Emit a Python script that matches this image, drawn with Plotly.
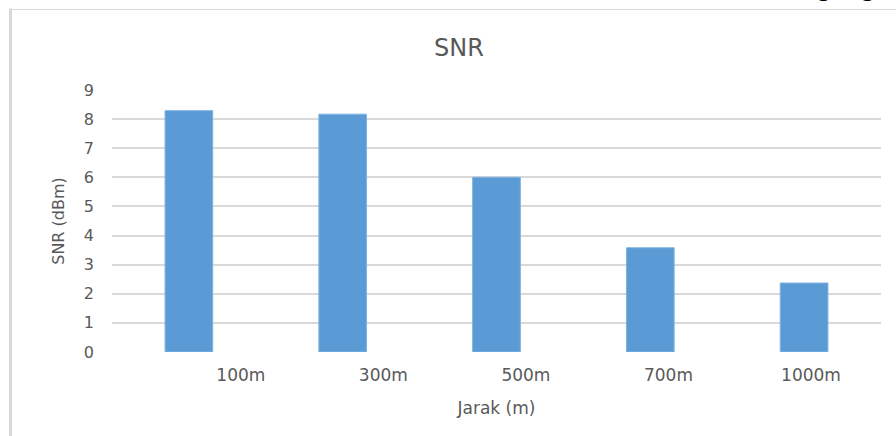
import plotly.graph_objects as go

# SNR measured at each distance
jarak = ["100m", "300m", "500m", "700m", "1000m"]
snr = [8.29, 8.17, 6.0, 3.58, 2.37]
y_ticks = [0, 1, 2, 3, 4, 5, 6, 7, 8, 9]

W, H = 896, 436
ML, MR, MT, MB = 112, 15, 90, 84
PW, PH = W - ML - MR, H - MT - MB

TEXT = "#595959"
FONT = "DejaVu Sans"


def px_x(px):
    return (px - ML) / PW


def px_y(py):
    return (H - MB - py) / PH


idx = list(range(len(jarak)))

fig = go.Figure()
fig.add_trace(go.Bar(
    x=idx, y=snr, width=0.31,
    marker=dict(color="#5B9BD5", line=dict(color="#7FB2E0", width=1)),
    showlegend=False, hoverinfo="x+y",
))
# carrier for the category labels axis
fig.add_trace(go.Scatter(
    x=idx, y=[0] * len(idx), xaxis="x2", mode="markers",
    marker=dict(opacity=0), showlegend=False, hoverinfo="skip",
))

fig.update_layout(
    width=W, height=H,
    margin=dict(l=ML, r=MR, t=MT, b=MB, autoexpand=False),
    paper_bgcolor="white", plot_bgcolor="white",
    font=dict(family=FONT, color=TEXT),
    title=dict(text="SNR", x=459 / W, xref="container", xanchor="center",
               y=1 - 47.5 / H, yref="container", yanchor="middle",
               font=dict(size=24, color=TEXT, family=FONT)),
    xaxis=dict(range=[-0.5, 4.5], showticklabels=False, showgrid=False,
               zeroline=False, showline=False, ticks=""),
    xaxis2=dict(overlaying="x", side="bottom", anchor="y",
                range=[-0.9036, 4.491], tickmode="array", tickvals=idx,
                ticktext=jarak, showgrid=False, zeroline=False, showline=False,
                ticks="", tickfont=dict(size=17, color=TEXT, family=FONT),
                ticklabelstandoff=11,
                title=dict(text="Jarak (m)", standoff=18,
                           font=dict(size=17, color=TEXT, family=FONT))),
    yaxis=dict(range=[0, 9], tickmode="array", tickvals=y_ticks,
               showgrid=True, gridcolor="#D9D9D9", gridwidth=1.5,
               zeroline=False, showline=False, ticks="",
               tickfont=dict(size=16, color=TEXT, family=FONT),
               ticklabelstandoff=17,
               title=dict(text="SNR (dBm)", standoff=15,
                          font=dict(size=16, color=TEXT, family=FONT))),
    shapes=[
        dict(type="line", xref="paper", yref="paper",
             x0=px_x(10.5), x1=px_x(10.5), y0=px_y(8.5), y1=px_y(H + 5),
             line=dict(color="#D9D9D9", width=3)),
        dict(type="line", xref="paper", yref="paper",
             x0=px_x(9), x1=px_x(W + 5), y0=px_y(9.5), y1=px_y(9.5),
             line=dict(color="#D9D9D9", width=1)),
    ],
    annotations=[
        dict(text="g", xref="paper", yref="paper", x=px_x(823), y=px_y(4),
             xanchor="center", yanchor="bottom", showarrow=False,
             font=dict(family="Liberation Serif", size=26, color="black")),
        dict(text="g", xref="paper", yref="paper", x=px_x(867.5), y=px_y(4),
             xanchor="center", yanchor="bottom", showarrow=False,
             font=dict(family="Liberation Serif", size=26, color="black")),
    ],
)

fig.write_html("out.html")
